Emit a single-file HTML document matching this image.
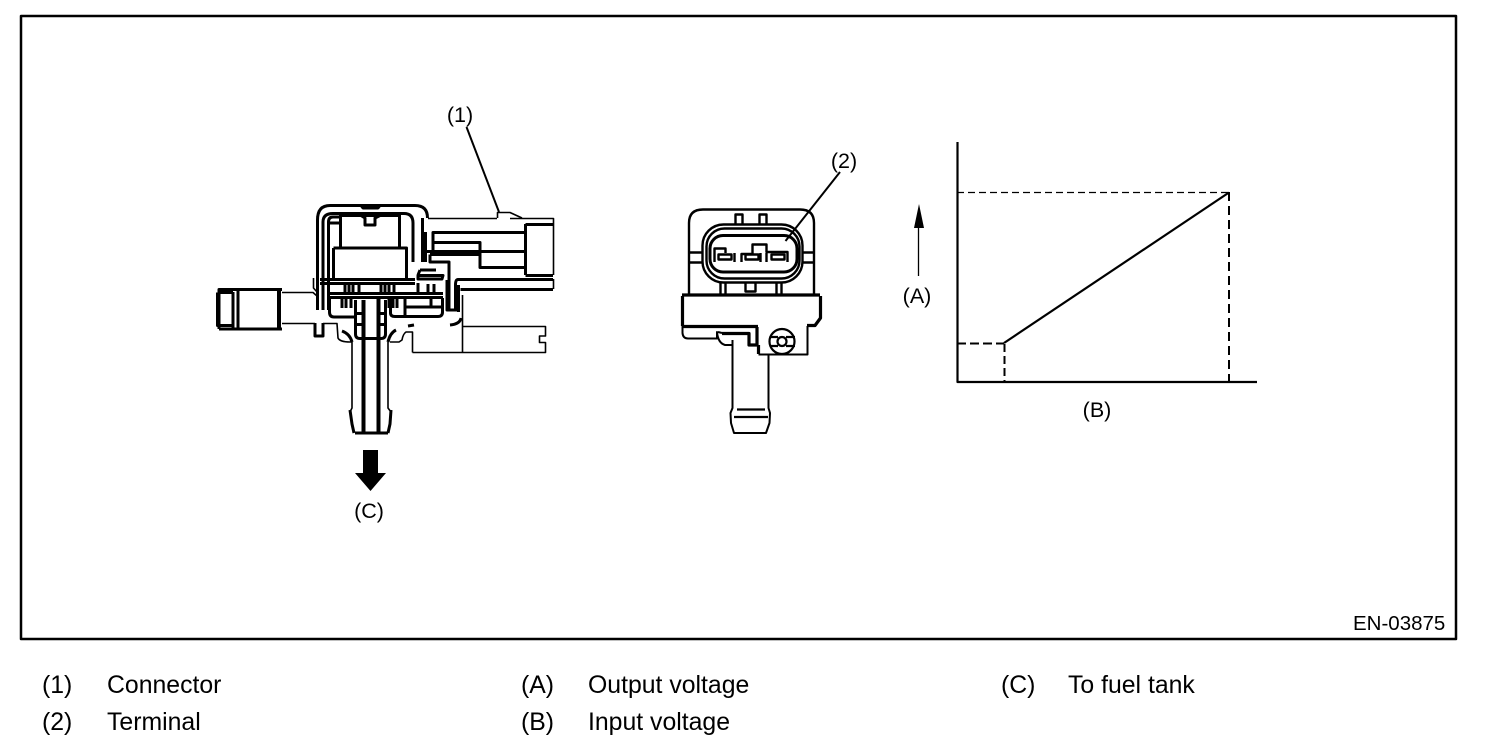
<!DOCTYPE html>
<html><head><meta charset="utf-8"><style>
html,body{margin:0;padding:0;background:#fff;width:1504px;height:748px;overflow:hidden}
svg{display:block}
text{font-family:"Liberation Sans",sans-serif;fill:#000;stroke:none}
.l{font-size:21.5px}.e{font-size:20.5px}.g{font-size:24.8px}
</style></head><body>
<svg width="1504" height="748" viewBox="0 0 1504 748" xmlns="http://www.w3.org/2000/svg" fill="none" stroke="#000" stroke-linejoin="round">
<rect x="21" y="16" width="1435" height="623" stroke-width="2.5"/>

<!-- left sensor: thick -->
<g stroke-width="3">
<path d="M317.500 310V220Q317.500 205.500 330 205.500H415Q427.500 205.500 427.500 218"/>
<path d="M323 310V222Q323 213.500 333 213.500H404Q413 213.500 413 223V262"/>
<path d="M328.500 310V222Q328.500 217 333 217H340"/>
<path d="M340.500 215V248M399.500 215V248M329 223H340M333.500 248H406.500V278M333.500 248V278"/>
<path d="M340 215.500H399"/>
<path d="M361 205.500L363 208H378L380 205.500M361 215.500L365 218V225H375V218L380 215.500"/>
<path d="M422.500 218V262M425.500 232V262"/>
<path d="M433 250V232.500H525M433.500 242.500H480V267.500H525M425 251.500H526"/>
<path d="M430 254.500H480M430 254.500V262H449V310"/>
<path d="M525.500 224V275M525.500 224.500H553M525.500 275.500H553"/>
<path d="M553 279.500H458Q455.500 279.500 455.500 285V310M458.500 285V312M447 280V310H458"/>
<path d="M460.500 289.500H553"/>
<path d="M320 279.500H415M320 283.500H415M327 293.500H443M327 297.500H443"/>
<path d="M418 275.500H443L442 279H418ZM420 270H436M420 270L418 275"/>
<path d="M345 284V293M349 284V293M353 284V293M359 284V293M381 284V293M385 284V293M389 284V293M394 284V293M428 284V293M434 284V293"/>
<path d="M342 298V308M346 298V308M351 298V308M389 298V308M393 298V308M397 298V308"/>
<path d="M329.500 298V312Q329.500 317 334 317H355M390.500 298V313Q390.500 316.500 395 316.500H438Q442.500 316.500 442.500 312V298"/>
<path d="M405 297V316M405 307H442M418 283V293M431 297V306"/>
<path d="M355.500 300V334Q355.500 338.500 360 338.500H381Q385.500 338.500 385.500 334V300M355 313.500H363M355 324.500H363M378 313.500H386M378 324.500H386"/>
<path d="M233 292V328M219 329V289.500H282M219 329H282M217.500 292.500H233M217.500 292.500V325.500H233"/>
<path d="M278.500 290V329M238 290V329"/>
<path d="M355 433H388M350 410L352 424L354 433M391 410L390 424L388 433" />
<path d="M315 323V336H323V323M342 331Q350 334 352 342M388 342Q390 333 396 330M408 326L414 325M450 325Q460 324 461 318"/>
</g>
<g stroke-width="4"><path d="M363.500 300V433M378.500 298V433M279 290V329"/></g>
<g stroke-width="1.600">
<path d="M282 292.500H313L317 296M282 323.500H315M323 323.500H337L338 338Q340 342 350 342H352V408L350 412M388 342V408L391 412"/>
<path d="M313.500 278V288L317 292"/>
<path d="M428 218.500H497M510 218.500H553.500V275M553.500 279V289"/>
<path d="M462.500 295V352.500M412.500 352.500H545.500V342.500H539.500V336H545.500V326.500H462.500"/>
<path d="M412.500 352.500V332H406Q403 334 402 340L399 342H390"/>
<path d="M466.500 127L499 212" stroke-width="2"/>
<path d="M497.500 218V212.500H510L522 218"/>
</g>

<!-- arrow C -->
<path d="M363 450H378V473H386L370.500 491L355 473H363Z" fill="#000" stroke="none"/>

<!-- right connector -->
<g stroke-width="2.400">
<path d="M689 295V223Q689 209.500 703 209.500H800Q814 209.500 814 223V295"/>
<rect x="702.500" y="224.500" width="100" height="58" rx="21"/>
<rect x="706.500" y="228.500" width="93" height="50" rx="18"/>
<path d="M689 252.500H702M689 262.500H702M803 252.500H814M803 262.500H814"/>
<path d="M735.500 224V214.500H742.500V224M759.500 224V214.500H766.500V224"/>
<path d="M720.500 283V296M725.500 283V296M776.500 283V296M781.500 283V296M745.500 283V291.500H755.500V283"/>
<rect x="718.500" y="254.500" width="13" height="5"/><rect x="745.500" y="254.500" width="13" height="5"/><rect x="771.500" y="254.500" width="13" height="5"/>
<path d="M714.500 262V248.500H725.500V253M741.500 262V254H752.500V244.500H766.500V252H787.500V262"/>
<path d="M760.500 253V262M766.500 253V262M734.500 253V262"/>
</g>
<rect x="710" y="235.500" width="87" height="36.500" rx="13" stroke-width="3"/>
<g stroke-width="3.200">
<path d="M682 295H820"/>
<path d="M682.500 296V326M820.500 296V318L815 325.500H807M682 326.500H758M757 327V346M722 333.500H749V345H758"/>
<path d="M758.500 345V354"/>
</g>
<g stroke-width="2">
<path d="M682.500 326V333Q683 338.500 688 338.500H717V332Q718 343 725 345H732"/>
<path d="M807.500 326V354.500H758.500M718 332L722 333"/>
<path d="M732.500 340V408L730.500 413L731 423L734 433H766L769.500 423L770 413L768.500 408V354"/>
<circle cx="782" cy="341.500" r="12.500" stroke-width="2.200"/>
<circle cx="782" cy="341.500" r="4.500" stroke-width="2.200"/>
<path d="M770 337H778M786 337H795M770 346H778M786 346H795" stroke-width="2.200"/>
<path d="M737 409.500H765M734 417H768" stroke-width="2.200"/>
<path d="M785.500 241L840 172"/>
</g>

<!-- graph -->
<path d="M957.500 142V382H1257" stroke-width="2.200"/>
<path d="M957 192.500H1229" stroke-width="1.200" stroke-dasharray="7 4"/>
<path d="M1229 192V381" stroke-width="2" stroke-dasharray="9 5"/>
<path d="M957 343.500H1004" stroke-width="2" stroke-dasharray="9 4"/>
<path d="M1004.500 344V381" stroke-width="2" stroke-dasharray="8 4"/>
<path d="M1004 343L1229 192.500" stroke-width="2.200"/>
<path d="M918.500 276V227" stroke-width="1.300"/>
<path d="M919 204L924 228H914Z" fill="#000" stroke="none"/>

<text class="l" x="460" y="122" text-anchor="middle">(1)</text>
<text class="l" x="844" y="168" text-anchor="middle">(2)</text>
<text class="l" x="917" y="303" text-anchor="middle">(A)</text>
<text class="l" x="1097" y="417" text-anchor="middle">(B)</text>
<text class="l" x="369" y="518" text-anchor="middle">(C)</text>
<text class="e" x="1353" y="630">EN-03875</text>

<text class="g" x="42" y="693">(1)</text><text class="g" x="107" y="693">Connector</text>
<text class="g" x="42" y="730">(2)</text><text class="g" x="107" y="730">Terminal</text>
<text class="g" x="521" y="693">(A)</text><text class="g" x="588" y="693">Output voltage</text>
<text class="g" x="521" y="730">(B)</text><text class="g" x="588" y="730">Input voltage</text>
<text class="g" x="1001" y="693">(C)</text><text class="g" x="1068" y="693">To fuel tank</text>
</svg>
</body></html>
